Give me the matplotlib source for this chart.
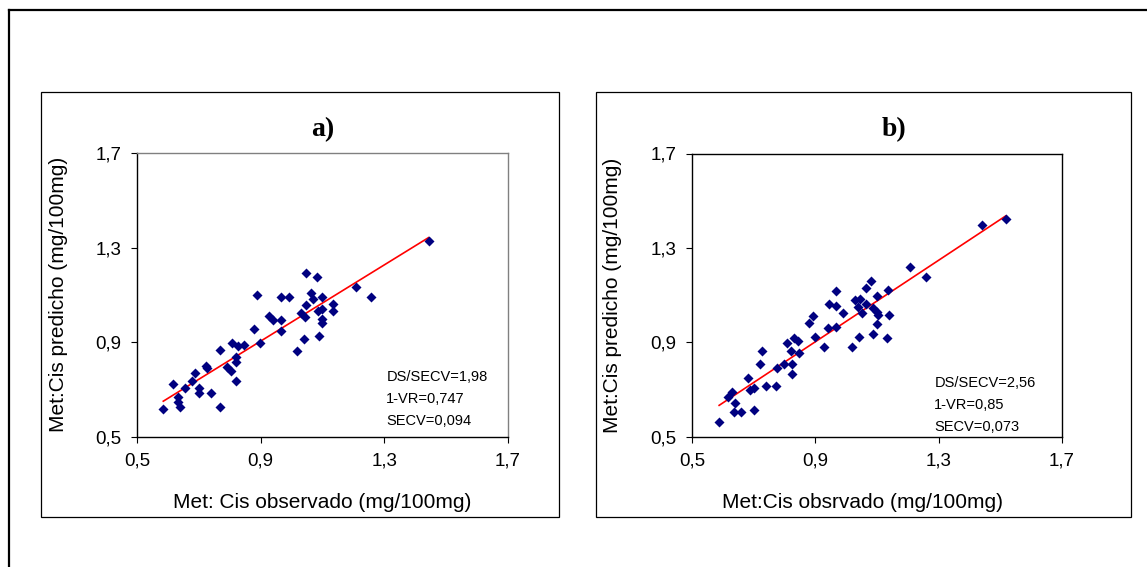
import numpy as np
import matplotlib.pyplot as plt
from matplotlib.patches import Rectangle
from matplotlib.lines import Line2D

plt.rcParams['font.family'] = ['Liberation Sans', 'DejaVu Sans']

# a) Met:Cis observado vs predicho
obs_a = [1.443, 1.048, 1.081, 1.207, 1.257, 0.889, 0.967, 0.992, 1.062, 1.070,
         1.099, 1.048, 1.134, 1.134, 1.099, 1.086, 1.030, 1.043, 1.099, 1.099,
         0.927, 0.940, 0.967, 0.965, 0.878, 1.040, 1.088, 1.016, 0.897, 0.808,
         0.826, 0.846, 0.769, 0.819, 0.819, 0.791, 0.803, 0.722, 0.727, 0.688,
         0.677, 0.819, 0.618, 0.656, 0.699, 0.700, 0.738, 0.632, 0.634, 0.639,
         0.585, 0.769]
pred_a = [1.328, 1.193, 1.176, 1.133, 1.091, 1.101, 1.091, 1.091, 1.109, 1.084,
          1.091, 1.056, 1.060, 1.031, 1.042, 1.031, 1.025, 1.006, 0.999, 0.980,
          1.009, 0.995, 0.992, 0.947, 0.957, 0.914, 0.928, 0.862, 0.896, 0.896,
          0.883, 0.889, 0.865, 0.839, 0.818, 0.794, 0.776, 0.798, 0.790, 0.770,
          0.737, 0.737, 0.721, 0.705, 0.705, 0.685, 0.685, 0.667, 0.645, 0.627,
          0.617, 0.627]

# b) Met:Cis obsrvado vs predicho
obs_b = [1.518, 1.442, 1.207, 1.258, 1.081, 1.063, 0.966, 1.137, 1.099, 1.029,
         1.045, 1.064, 1.037, 0.944, 0.966, 0.991, 1.050, 1.088, 1.101, 1.102,
         1.139, 1.101, 0.891, 0.880, 0.942, 0.966, 0.899, 0.929, 1.018, 1.043,
         1.088, 1.131, 0.807, 0.832, 0.843, 0.821, 0.848, 0.726, 0.721, 0.775,
         0.798, 0.823, 0.823, 0.683, 0.740, 0.771, 0.688, 0.702, 0.631, 0.618,
         0.640, 0.637, 0.658, 0.701, 0.588]
pred_b = [1.422, 1.397, 1.220, 1.178, 1.161, 1.128, 1.118, 1.121, 1.096, 1.079,
          1.082, 1.062, 1.050, 1.061, 1.053, 1.025, 1.025, 1.044, 1.029, 1.015,
          1.015, 0.976, 1.011, 0.983, 0.959, 0.966, 0.923, 0.881, 0.881, 0.923,
          0.933, 0.916, 0.898, 0.916, 0.905, 0.864, 0.855, 0.864, 0.806, 0.792,
          0.807, 0.807, 0.764, 0.747, 0.714, 0.714, 0.697, 0.707, 0.687, 0.669,
          0.641, 0.603, 0.603, 0.612, 0.563]

stats_a = ['DS/SECV=1,98', '1-VR=0,747', 'SECV=0,094']
stats_b = ['DS/SECV=2,56', '1-VR=0,85', 'SECV=0,073']
ticks = [0.5, 0.9, 1.3, 1.7]
tick_labels = ['0,5', '0,9', '1,3', '1,7']

W, H = 1147, 567
fig = plt.figure(figsize=(W / 100, H / 100), dpi=100)


def box(x0, y0, x1, y1):
    # pixel box (top-left origin) -> figure fraction
    return [x0 / W, 1 - y1 / H, (x1 - x0) / W, (y1 - y0) / H]


# outer frame (only top and left visible) and the two panel boxes
fig.add_artist(Line2D([8.5 / W, 1], [1 - 9.5 / H] * 2, color='black', lw=1.6))
fig.add_artist(Line2D([8.5 / W] * 2, [0, 1 - 9.5 / H], color='black', lw=1.6))
for x0, x1 in [(41, 559), (596, 1131)]:
    r = box(x0, 92, x1, 517)
    fig.add_artist(Rectangle((r[0], r[1]), r[2], r[3], transform=fig.transFigure,
                             fill=False, ec='black', lw=0.9))

ax_a = fig.add_axes(box(137, 153, 508, 436.7))
ax_b = fig.add_axes(box(692, 153.5, 1062, 436.5))

panels = [
    (ax_a, obs_a, pred_a, stats_a, 'a)', 0.5, 'Met: Cis observado (mg/100mg)', 0.5,
     -0.186, (0.672, 0.196), '#808080'),
    (ax_b, obs_b, pred_b, stats_b, 'b)', 0.546, 'Met:Cis obsrvado (mg/100mg)', 0.46,
     -0.189, (0.655, 0.176), 'black'),
]

for ax, x, y, stats, title, tx, xlab, xlx, ylx, spos, edge in panels:
    x = np.array(x)
    y = np.array(y)
    ax.scatter(x, y, marker='D', s=26, color='#000080', zorder=3, linewidths=0)
    k, b = np.polyfit(x, y, 1)
    xs = np.array([x.min(), x.max()])
    ax.plot(xs, k * xs + b, color='red', lw=1.2, zorder=2)

    ax.set_xlim(0.5, 1.7)
    ax.set_ylim(0.5, 1.7)
    ax.set_xticks(ticks)
    ax.set_xticklabels(tick_labels)
    ax.set_yticks(ticks)
    ax.set_yticklabels(tick_labels)
    ax.tick_params(direction='out', length=4.5, width=0.8, labelsize=13.5, pad=6.5)
    ax.tick_params(axis='x', pad=7)
    for s in ['left', 'bottom']:
        ax.spines[s].set_color('black')
        ax.spines[s].set_linewidth(1.0)
    for s in ['top', 'right']:
        ax.spines[s].set_color(edge)
        ax.spines[s].set_linewidth(1.0)

    ax.set_xlabel(xlab, fontsize=15)
    ax.xaxis.set_label_coords(xlx, -0.198)
    ax.set_ylabel('Met:Cis predicho (mg/100mg)', fontsize=15)
    ax.yaxis.set_label_coords(ylx, 0.5)

    ax.text(tx, 1 + 17 / 283, title, transform=ax.transAxes, ha='center',
            va='baseline', fontsize=20, fontweight='bold',
            family=['Liberation Serif', 'DejaVu Serif'])
    for i, s in enumerate(stats):
        ax.text(spos[0], spos[1] - i * 0.0775, s, transform=ax.transAxes,
                ha='left', va='baseline', fontsize=10.5)

fig.savefig('out.png', dpi=100)
